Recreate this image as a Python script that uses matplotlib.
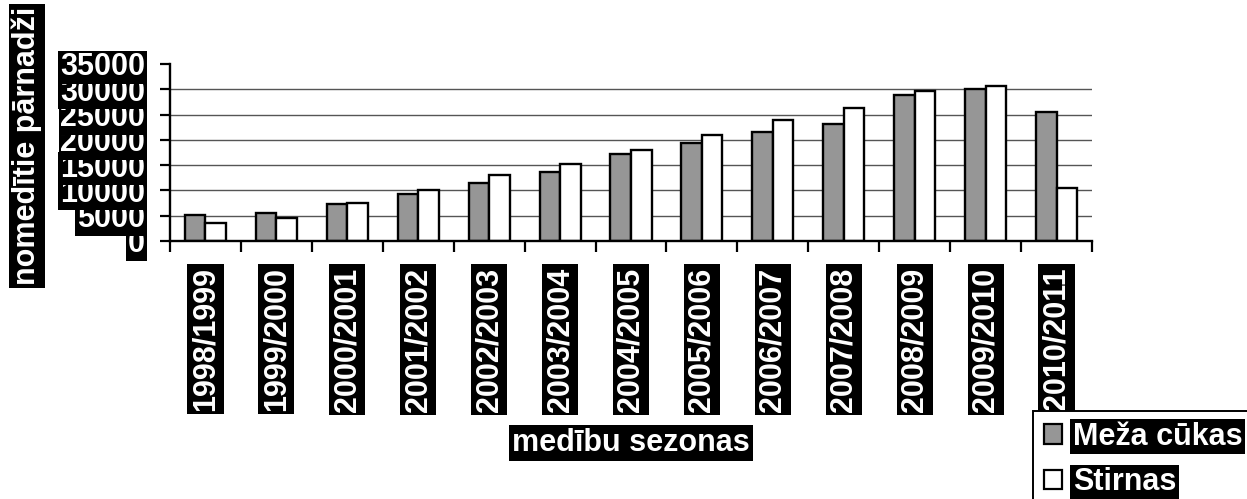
import matplotlib
matplotlib.use("Agg")
import matplotlib.pyplot as plt
import numpy as np
from matplotlib.patches import Patch

plt.rcParams['font.family'] = ['Liberation Sans', 'DejaVu Sans']
plt.rcParams['font.weight'] = 'bold'

seasons = ["1998/1999", "1999/2000", "2000/2001", "2001/2002", "2002/2003",
           "2003/2004", "2004/2005", "2005/2006", "2006/2007", "2007/2008",
           "2008/2009", "2009/2010", "2010/2011"]
meza_cukas = [5100, 5600, 7400, 9250, 11500, 13600, 17150, 19450, 21500, 23200, 28900, 30050, 25450]
stirnas = [3550, 4600, 7450, 10150, 13100, 15150, 17950, 20950, 23850, 26300, 29600, 30700, 10500]
yticks = [0, 5000, 10000, 15000, 20000, 25000, 30000, 35000]
series_names = ["Meža cūkas", "Stirnas"]
colors = ["#969696", "#ffffff"]

W, H = 1247, 499
fig = plt.figure(figsize=(W / 100, H / 100), dpi=100)
ax = fig.add_axes([170 / W, 1 - 241 / H, (1092 - 170) / W, (241 - 64) / H])

FS = 22

x = np.arange(len(seasons))
bw = 0.29
ax.bar(x - bw / 2, meza_cukas, bw, color=colors[0], edgecolor='black', linewidth=1.7, zorder=3)
ax.bar(x + bw / 2, stirnas, bw, color=colors[1], edgecolor='black', linewidth=1.7, zorder=3)

ax.set_xlim(-0.5, len(seasons) - 0.5)
ax.set_ylim(0, 35000)

# grid lines
ax.hlines(yticks[1:-1], -0.5, len(seasons) - 0.5, colors='#555555', linewidth=1.0, zorder=1)

for s in ['top', 'right']:
    ax.spines[s].set_visible(False)
for s in ['left', 'bottom']:
    ax.spines[s].set_linewidth(1.7)
    ax.spines[s].set_zorder(4)

ax.set_yticks(yticks)
ax.set_yticklabels([str(v) for v in yticks])
ax.tick_params(axis='y', direction='out', length=7.5, width=1.6, pad=10.5)
for lbl in ax.get_yticklabels():
    lbl.set_fontsize(FS)
    lbl.set_fontweight('bold')
    lbl.set_color('white')
    lbl.set_bbox(dict(facecolor='black', edgecolor='none', boxstyle='square,pad=0.05'))

ax.set_xticks(x)
ax.set_xticklabels(seasons, rotation=90)
ax.set_xticks(np.arange(len(seasons) + 1) - 0.5, minor=True)
ax.tick_params(axis='x', which='major', length=0, pad=19)
ax.tick_params(axis='x', which='minor', direction='out', length=8, width=1.6)
for lbl in ax.get_xticklabels():
    lbl.set_fontsize(FS)
    lbl.set_fontweight('bold')
    lbl.set_color('white')
    lbl.set_bbox(dict(facecolor='black', edgecolor='none', boxstyle='square,pad=0.1'))

ax.set_ylabel("nomedītie pārnadži", fontsize=FS, fontweight='bold', color='white',
              bbox=dict(facecolor='black', edgecolor='none', boxstyle='square,pad=0.1'))
ax.yaxis.set_label_coords((27 - 170) / (1092 - 170), (241 - 146) / 177)
ax.yaxis.label.set_va('center')

ax.set_xlabel("medību sezonas", fontsize=FS, fontweight='bold', color='white',
              bbox=dict(facecolor='black', edgecolor='none', boxstyle='square,pad=0.1'))
ax.xaxis.set_label_coords(0.5, (241 - 443) / 177)
ax.xaxis.label.set_va('center')

handles = [Patch(facecolor=colors[0], edgecolor='black', linewidth=1.6),
           Patch(facecolor=colors[1], edgecolor='black', linewidth=1.6)]
leg = fig.legend(handles, series_names, loc='upper left',
                 bbox_to_anchor=(1033 / W, 1 - 411 / H), borderaxespad=0,
                 prop={'weight': 'bold', 'size': FS},
                 handlelength=0.6, handleheight=0.6, handletextpad=0.35,
                 labelspacing=0.5, borderpad=0.35, fancybox=False,
                 edgecolor='black', framealpha=1)
leg.get_frame().set_linewidth(1.4)
for t in leg.get_texts():
    t.set_color('white')
    t.set_bbox(dict(facecolor='black', edgecolor='none', boxstyle='square,pad=0.08'))

fig.savefig("out.png", dpi=100)
